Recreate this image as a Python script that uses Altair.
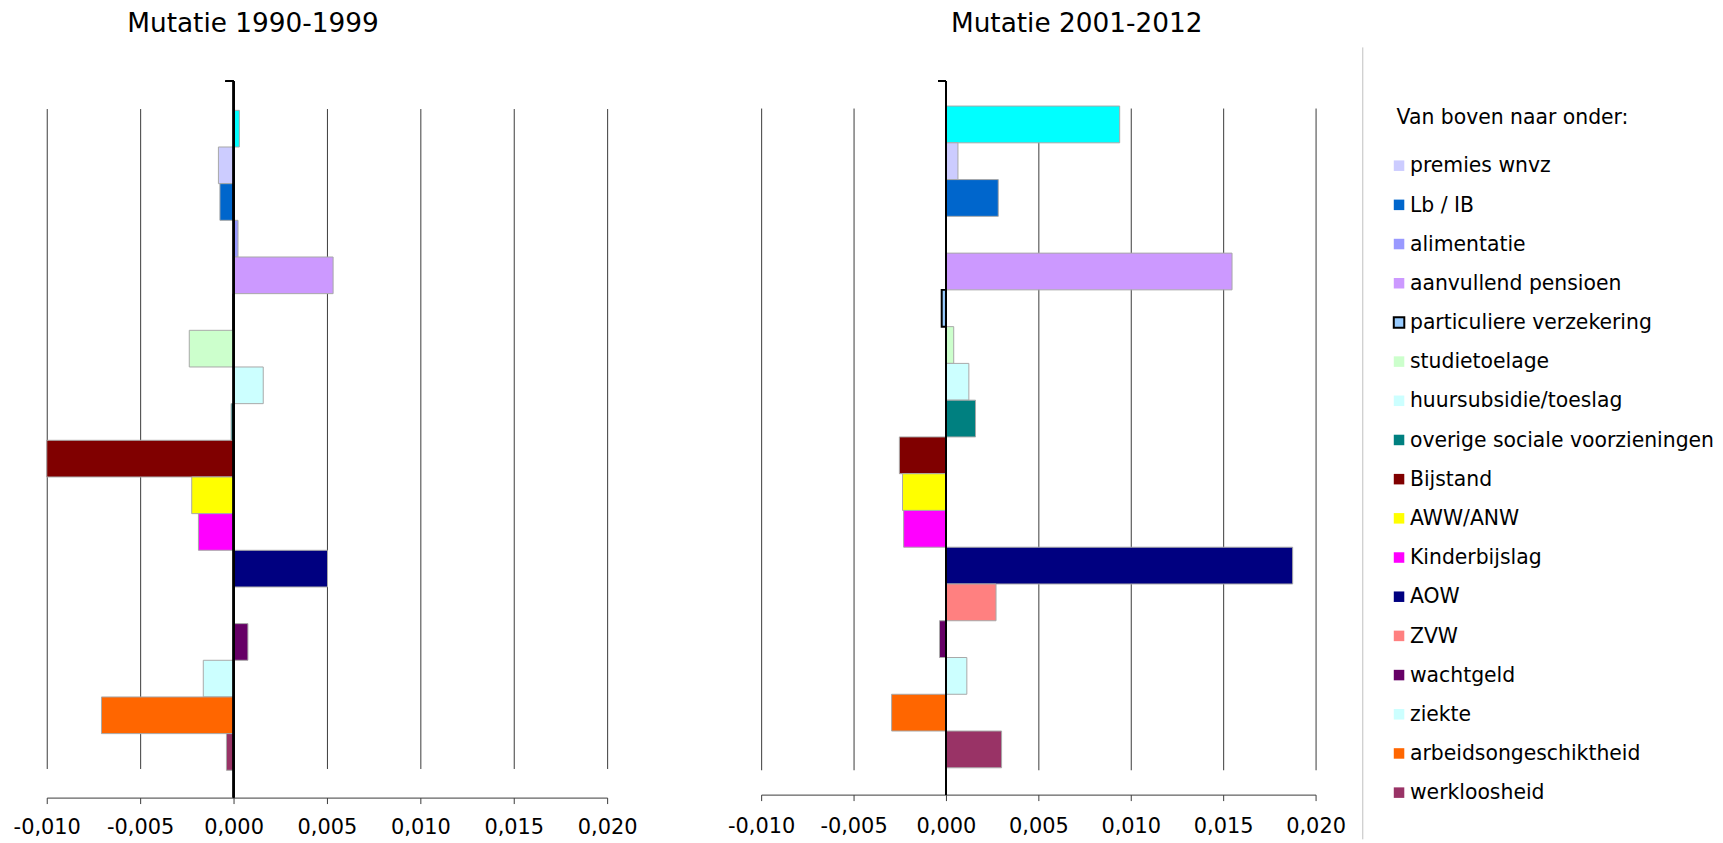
import altair as alt
import pandas as pd

FONT = "DejaVu Sans"

categories = [
    "totaal", "premies wnvz", "Lb / IB", "alimentatie", "aanvullend pensioen",
    "particuliere verzekering", "studietoelage", "huursubsidie/toeslag",
    "overige sociale voorzieningen", "Bijstand", "AWW/ANW", "Kinderbijslag",
    "AOW", "ZVW", "wachtgeld", "ziekte", "arbeidsongeschiktheid", "werkloosheid",
]
colors = [
    "#00FFFF", "#CCCCFF", "#0066CC", "#9999FF", "#CC99FF",
    "#99CCFF", "#CCFFCC", "#CCFFFF", "#008080", "#800000",
    "#FFFF00", "#FF00FF", "#000080", "#FF8080", "#660066",
    "#CCFFFF", "#FF6600", "#993366",
]
values_1990_1999 = [
    0.00031, -0.00081, -0.00073, 0.00024, 0.00533, 0.0, -0.00237, 0.00159,
    -0.00013, -0.0100, -0.00224, -0.00188, 0.00503, 0.0, 0.00077, -0.00162,
    -0.00707, -0.00038,
]
values_2001_2012 = [
    0.0094, 0.00065, 0.00283, 0.0, 0.01548, -0.00023, 0.00042, 0.00124,
    0.00160, -0.00252, -0.00235, -0.00229, 0.01876, 0.00271, -0.00035,
    0.00113, -0.00294, 0.00301,
]
tick_values = [-0.010, -0.005, 0.0, 0.005, 0.010, 0.015, 0.020]
legend_title = "Van boven naar onder:"
legend_items = categories[1:]

SPECIAL = "particuliere verzekering"


def panel(values, title, title_dx, width, height, band_range, label_pad):
    df = pd.DataFrame({"cat": categories, "value": values})
    x = alt.X(
        "value:Q",
        scale=alt.Scale(domain=[tick_values[0], tick_values[-1]], nice=False, zero=True),
        axis=alt.Axis(
            values=tick_values,
            labelExpr="replace(replace(format(datum.value, '.3f'), '.', ','), '\u2212', '-')",
            grid=True, gridColor="#3a3a3a", gridWidth=1,
            domainColor="#3a3a3a", tickColor="#3a3a3a", tickSize=6,
            labelFont=FONT, labelFontSize=21, labelColor="black",
            labelPadding=label_pad, labelFlush=False, labelOverlap=False, title=None,
        ),
    )
    y = alt.Y(
        "cat:N", sort=categories,
        scale=alt.Scale(domain=categories, range=band_range, paddingInner=0, paddingOuter=0),
        axis=None,
    )
    bars = alt.Chart(df).mark_bar().encode(
        x=x,
        y=y,
        color=alt.Color("cat:N", scale=alt.Scale(domain=categories, range=colors), legend=None),
        stroke=alt.condition(alt.datum.cat == SPECIAL, alt.value("black"), alt.value("#a8a8a8")),
        strokeWidth=alt.condition(alt.datum.cat == SPECIAL, alt.value(2), alt.value(1)),
    )
    zero_line = alt.Chart(df).mark_rule(color="black", strokeWidth=1.3).encode(x=alt.datum(0))
    top_tick = alt.Chart(df).mark_tick(
        orient="horizontal", size=8, thickness=1.2, color="black", xOffset=-4
    ).encode(x=alt.datum(0), y=alt.value(0))
    return alt.layer(bars, zero_line, top_tick).properties(
        width=width,
        height=height,
        title=alt.TitleParams(
            text=title, font=FONT, fontSize=26.5, fontWeight="normal", color="black",
            anchor="start", frame="group", dx=title_dx, offset=43,
        ),
    )


left = panel(values_1990_1999, "Mutatie 1990-1999", 81, 564, 721, [29.3, 693.5], 13)
right = panel(values_2001_2012, "Mutatie 2001-2012", 191, 558, 718, [25, 691], 15)

leg_df = pd.DataFrame({"name": legend_items})
ly = alt.Y(
    "name:N", sort=legend_items,
    scale=alt.Scale(type="point", domain=legend_items, range=[85, 716], padding=0),
    axis=None,
)
squares = alt.Chart(leg_df).mark_square(size=112, opacity=1).encode(
    x=alt.value(37),
    y=ly,
    color=alt.Color("name:N", scale=alt.Scale(domain=categories, range=colors), legend=None),
    stroke=alt.value("black"),
    strokeWidth=alt.condition(alt.datum.name == SPECIAL, alt.value(2), alt.value(0)),
)
labels = alt.Chart(leg_df).mark_text(
    align="left", baseline="alphabetic", dy=6.7, font=FONT, fontSize=20.5, color="black"
).encode(x=alt.value(48), y=ly, text="name:N")
title_df = pd.DataFrame({"t": [legend_title]})
title_text = alt.Chart(title_df).mark_text(
    align="left", baseline="alphabetic", font=FONT, fontSize=20.5, color="black"
).encode(x=alt.value(34.5), y=alt.value(42.7), text="t:N")
sep = alt.Chart(title_df).mark_rule(color="#c0c0c0", strokeWidth=1).encode(
    x=alt.value(0.5), y=alt.value(-34), y2=alt.value(763)
)
legend = alt.layer(sep, title_text, squares, labels).properties(width=320, height=740)

panels = alt.hconcat(left, right, spacing=90)
chart = alt.hconcat(panels, legend, spacing=16).properties(
    padding={"left": 5, "top": 0, "right": 0, "bottom": 0}
).configure_view(stroke=None)

chart.save("out.html", embed_options={"renderer": "svg", "actions": False})
